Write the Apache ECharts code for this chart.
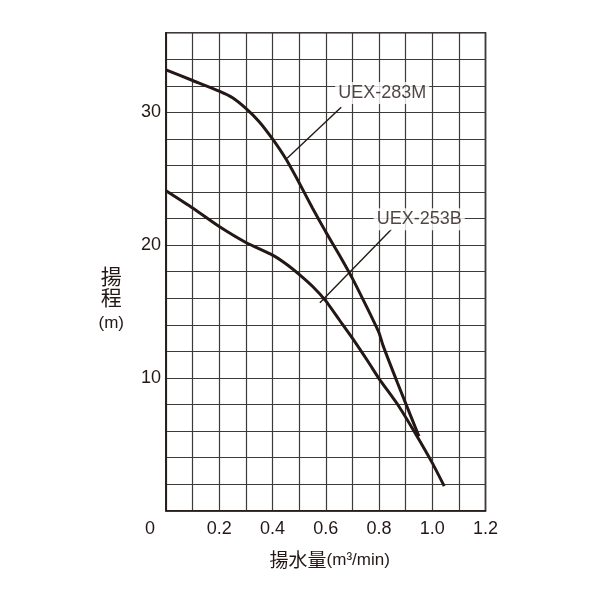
<!DOCTYPE html>
<html>
<head>
<meta charset="utf-8">
<script src="https://cdn.jsdelivr.net/npm/echarts@6/dist/echarts.min.js"></script>
<style>
  html, body { margin: 0; padding: 0; background: #fff; }
  #chart { width: 600px; height: 600px; }
</style>
</head>
<body>
<div id="chart"></div>
<script>
;(function () {
  'use strict';

  // pump curves, flow (m3/min) vs head (m)
  var flow283M = [0, 0.1, 0.2, 0.25, 0.3, 0.35, 0.4, 0.45, 0.5, 0.55, 0.6, 0.65, 0.7, 0.75, 0.8, 0.815, 0.87, 0.95];
  var head283M = [33.2, 32.4, 31.6, 31.1, 30.3, 29.3, 28.0, 26.5, 24.7, 22.8, 21.0, 19.3, 17.5, 15.5, 13.4, 12.45, 9.6, 5.6];

  var flow253B = [0, 0.1, 0.2, 0.3, 0.4, 0.45, 0.5, 0.55, 0.6, 0.65, 0.7, 0.76, 0.8, 0.875, 0.94, 1.0, 1.045];
  var head253B = [24.1, 22.8, 21.4, 20.2, 19.25, 18.6, 17.8, 16.9, 15.8, 14.4, 13.0, 11.2, 9.95, 7.85, 5.7, 3.6, 1.85];

  // model labels: leader line ends and label anchor (data coords)
  var labelNames = ['UEX-283M', 'UEX-253B'];
  var leaderFrom = [[0.455, 26.54], [0.578, 15.66]];
  var leaderTo = [[0.658, 30.38], [0.847, 21.19]];
  var labelAt = [[0.812, 31.45], [0.951, 21.95]];

  var xTicks = ['0', '0.2', '0.4', '0.6', '0.8', '1.0', '1.2'];
  var yTicks = [10, 20, 30];

  var ink = '#231815';
  var gridInk = '#3e3a39';
  var font = '"Liberation Sans", Arial, sans-serif';
  var cjk = '"Noto Sans CJK JP", sans-serif';

  function zip(xs, ys) {
    return xs.map(function (x, i) { return [x, ys[i]]; });
  }

  var series = [
    {
      type: 'line', data: zip(flow283M, head283M), smooth: 0.2, showSymbol: false,
      lineStyle: { color: ink, width: 3 }, z: 5
    },
    {
      type: 'line', data: zip(flow253B, head253B), smooth: 0.2, showSymbol: false,
      lineStyle: { color: ink, width: 3 }, z: 5
    }
  ];

  labelNames.forEach(function (name, i) {
    series.push({
      type: 'line', data: [leaderFrom[i], leaderTo[i]], showSymbol: false,
      lineStyle: { color: ink, width: 1.4 }, z: 4
    });
    series.push({
      type: 'scatter', symbolSize: 0, z: 6,
      data: [{ value: labelAt[i], name: name }],
      label: {
        show: true, position: 'inside', formatter: '{b}',
        color: ink, fontFamily: font, fontSize: 18,
        backgroundColor: '#fff', padding: [2, 3, 2, 3]
      }
    });
  });

  var chart = echarts.init(document.getElementById('chart'));
  chart.setOption({
    animation: false,
    backgroundColor: '#fff',
    grid: {
      left: 166, right: 114.5, top: 32.7, bottom: 89.3,
      show: true, borderColor: ink, borderWidth: 1.6
    },
    xAxis: {
      type: 'value', min: 0, max: 1.2, interval: 0.1,
      axisLine: { show: true, lineStyle: { color: ink, width: 1.6 } },
      axisTick: { show: false },
      splitLine: { show: true, lineStyle: { color: gridInk, width: 1.2 } },
      axisLabel: {
        margin: 9, color: ink, fontFamily: font, fontSize: 18,
        formatter: function (v) {
          var k = Math.round(v * 10);
          if (k % 2) return '';
          var t = xTicks[k / 2];
          return k === 0 ? '{o|' + t + '}' : t;
        },
        rich: { o: { fontFamily: font, fontSize: 18, color: ink, padding: [0, 32, 0, 0] } }
      },
      name: '{a|揚水量}{b|(m³/min)}',
      nameLocation: 'middle', nameGap: 40,
      nameTextStyle: {
        padding: [0, 0, 0, 8],
        rich: {
          a: { fontFamily: cjk, fontSize: 19, color: ink },
          b: { fontFamily: font, fontSize: 17, color: ink }
        }
      }
    },
    yAxis: {
      type: 'value', min: 0, max: 36, interval: 2,
      axisLine: { show: true, lineStyle: { color: ink, width: 1.6 } },
      axisTick: { show: false },
      splitLine: { show: true, lineStyle: { color: gridInk, width: 1.2 } },
      axisLabel: {
        margin: 5, color: ink, fontFamily: font, fontSize: 18,
        formatter: function (v) {
          return yTicks.indexOf(Math.round(v)) >= 0 ? String(Math.round(v)) : '';
        }
      },
      name: '{a|揚}\n{a|程}\n{b|(m)}',
      nameLocation: 'middle', nameRotate: 0, nameGap: 42,
      nameTextStyle: {
        padding: [62, 0, 0, 0],
        rich: {
          a: { fontFamily: cjk, fontSize: 21, lineHeight: 21, color: ink, align: 'center' },
          b: { fontFamily: font, fontSize: 17, lineHeight: 33, color: ink, align: 'center' }
        }
      }
    },
    series: series
  });
})();
</script>
</body>
</html>
